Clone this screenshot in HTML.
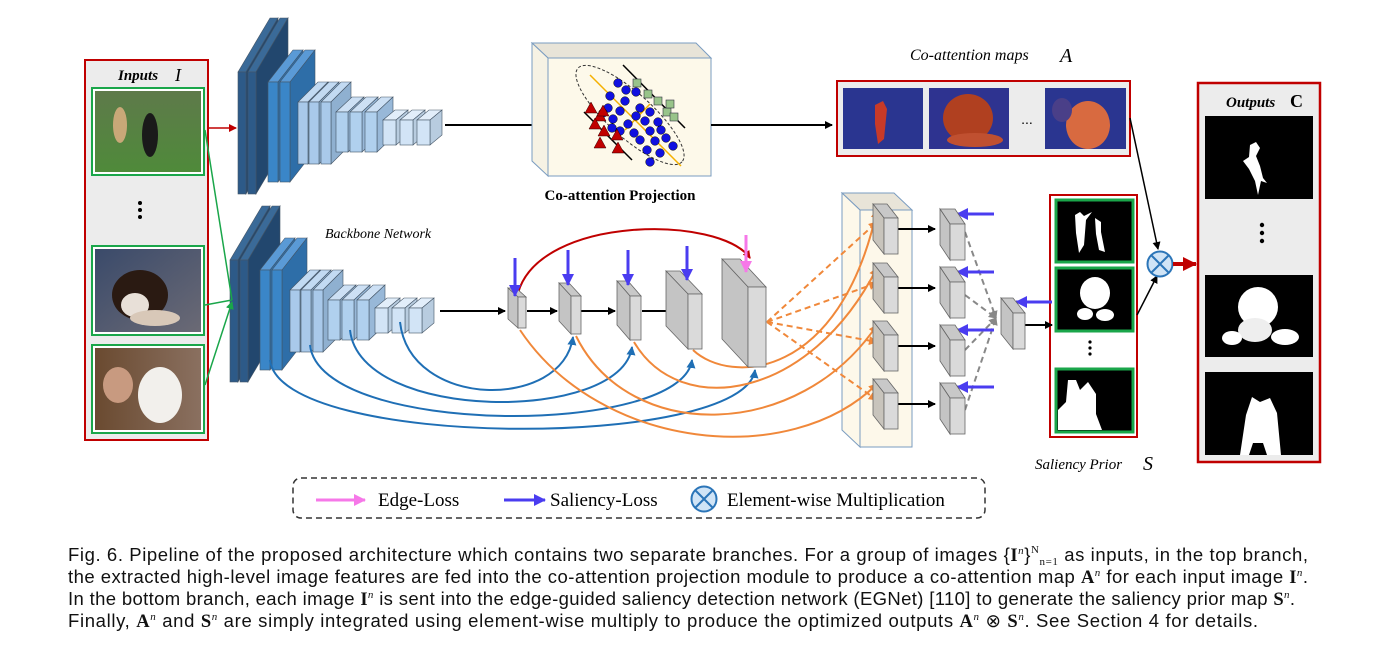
<!DOCTYPE html>
<html><head><meta charset="utf-8"><style>
html,body{margin:0;padding:0;background:#fff;}
svg{display:block}
.cap{font-family:"Liberation Sans",sans-serif;font-size:18.5px;fill:#111}
.ser{font-family:"Liberation Serif",serif}
</style></head><body>
<svg id="s" width="1375" height="651" viewBox="0 0 1375 651" xmlns="http://www.w3.org/2000/svg">
<defs>
<marker id="ak" markerWidth="8" markerHeight="8" refX="7" refY="4" orient="auto" markerUnits="userSpaceOnUse"><path d="M0,0 L8,4 L0,8 z" fill="#000"/></marker>
<marker id="ar" markerWidth="8" markerHeight="8" refX="7" refY="4" orient="auto" markerUnits="userSpaceOnUse"><path d="M0,0 L8,4 L0,8 z" fill="#c00000"/></marker>
<marker id="ab" markerWidth="9" markerHeight="9" refX="8" refY="4.5" orient="auto" markerUnits="userSpaceOnUse"><path d="M0,0 L9,4.5 L0,9 z" fill="#1f6fb5"/></marker>
<marker id="ao" markerWidth="9" markerHeight="9" refX="8" refY="4.5" orient="auto" markerUnits="userSpaceOnUse"><path d="M0,0 L9,4.5 L0,9 z" fill="#f0883a"/></marker>
<marker id="ag" markerWidth="8" markerHeight="8" refX="7" refY="4" orient="auto" markerUnits="userSpaceOnUse"><path d="M0,0 L8,4 L0,8 z" fill="#888"/></marker>
<marker id="agr" markerWidth="8" markerHeight="8" refX="7" refY="4" orient="auto" markerUnits="userSpaceOnUse"><path d="M0,0 L8,4 L0,8 z" fill="#1aa64a"/></marker>
<marker id="aB" markerWidth="12" markerHeight="12" refX="11" refY="6" orient="auto" markerUnits="userSpaceOnUse"><path d="M0,0 L12,6 L0,12 z" fill="#4a3cf0"/></marker>
<marker id="aP" markerWidth="12" markerHeight="12" refX="11" refY="6" orient="auto" markerUnits="userSpaceOnUse"><path d="M0,0 L12,6 L0,12 z" fill="#f678e8"/></marker>
<marker id="aR" markerWidth="14" markerHeight="14" refX="13" refY="7" orient="auto" markerUnits="userSpaceOnUse"><path d="M0,0 L14,7 L0,14 z" fill="#c00000"/></marker>
<linearGradient id="g1" x1="0" y1="0" x2="0" y2="1"><stop offset="0" stop-color="#5e7a4a"/><stop offset="1" stop-color="#4f8a3a"/></linearGradient>
<linearGradient id="g2" x1="0" y1="0" x2="1" y2="1"><stop offset="0" stop-color="#3a4a6a"/><stop offset="1" stop-color="#6b6a75"/></linearGradient>
<linearGradient id="g3" x1="0" y1="0" x2="1" y2="0"><stop offset="0" stop-color="#6a4a30"/><stop offset="1" stop-color="#8a7060"/></linearGradient>
</defs>

<rect x="85" y="60" width="123" height="380" fill="#ececec" stroke="#c00000" stroke-width="2"/>
<text x="118" y="80" class="ser" font-size="15" font-style="italic" font-weight="bold">Inputs</text>
<text x="175" y="81" class="ser" font-size="18" font-style="italic">I</text>
<rect x="92" y="88" width="112" height="87" fill="#fff" stroke="#1aa64a" stroke-width="2"/>
<rect x="95" y="91" width="106" height="81" fill="url(#g1)"/>
<ellipse cx="120" cy="125" rx="7" ry="18" fill="#c9a878"/><ellipse cx="150" cy="135" rx="8" ry="22" fill="#1a1a1a"/>
<circle cx="140" cy="203" r="2" fill="#000"/><circle cx="140" cy="210" r="2" fill="#000"/><circle cx="140" cy="217" r="2" fill="#000"/>
<rect x="92" y="246" width="112" height="89" fill="#fff" stroke="#1aa64a" stroke-width="2"/>
<rect x="95" y="249" width="106" height="83" fill="url(#g2)"/>
<ellipse cx="140" cy="295" rx="28" ry="25" fill="#2a1a12"/><ellipse cx="135" cy="305" rx="14" ry="12" fill="#e8e0d8"/><ellipse cx="155" cy="318" rx="25" ry="8" fill="#d8c8b8"/>
<rect x="92" y="345" width="112" height="88" fill="#fff" stroke="#1aa64a" stroke-width="2"/>
<rect x="95" y="348" width="106" height="82" fill="url(#g3)"/>
<ellipse cx="118" cy="385" rx="15" ry="18" fill="#c89a80"/><ellipse cx="160" cy="395" rx="22" ry="28" fill="#f2f0ec"/>

<g id="cnn"></g>
<line x1="208" y1="128" x2="236" y2="128" stroke="#c00000" stroke-width="1.5" marker-end="url(#ar)"/>
<path d="M205,130 L232,300 M205,305 L232,300 M205,385 L232,302" stroke="#1aa64a" stroke-width="1.5" fill="none" marker-end="url(#agr)"/>
<line x1="445" y1="125" x2="540" y2="125" stroke="#000" stroke-width="2" marker-end="url(#ak)"/>

<polygon points="532,43 696,43 711,58 548,58" fill="#e8e4d8" stroke="#7a9cc0"/>
<polygon points="532,43 548,58 548,176 532,161" fill="#f6f2e4" stroke="#7a9cc0"/>
<rect x="548" y="58" width="163" height="118" fill="#fdf9ea" stroke="#7a9cc0"/>
<ellipse cx="630" cy="115" rx="70" ry="22" transform="rotate(42 630 115)" fill="none" stroke="#333" stroke-dasharray="3,2"/>
<line x1="590" y1="75" x2="681" y2="166" stroke="#f5b000" stroke-width="1.5"/>
<line x1="625" y1="130" x2="650" y2="104" stroke="#f5b000" stroke-width="1.5"/>
<line x1="623" y1="65" x2="685" y2="128" stroke="#000" stroke-width="1.5"/>
<line x1="584" y1="112" x2="632" y2="160" stroke="#000" stroke-width="1.5"/>
<g id="pts"></g>
<text x="620" y="200" text-anchor="middle" class="ser" font-size="15" font-weight="bold">Co-attention Projection</text>
<line x1="711" y1="125" x2="832" y2="125" stroke="#000" stroke-width="2" marker-end="url(#ak)"/>

<text x="910" y="60" class="ser" font-size="16" font-style="italic">Co-attention maps</text>
<text x="1060" y="62" class="ser" font-size="20" font-style="italic">A</text>
<rect x="837" y="81" width="293" height="75" fill="#ececec" stroke="#c00000" stroke-width="2"/>
<rect x="843" y="88" width="80" height="61" fill="#2a3590"/><path d="M875,105 l8,-4 4,8 -3,30 -6,5 -3,-20z" fill="#c83a28"/>
<rect x="929" y="88" width="80" height="61" fill="#2e3390"/><ellipse cx="968" cy="118" rx="25" ry="24" fill="#b04020"/><ellipse cx="975" cy="140" rx="28" ry="7" fill="#c05030"/>
<text x="1027" y="124" font-size="14" font-family="Liberation Sans" text-anchor="middle">...</text>
<rect x="1045" y="88" width="81" height="61" fill="#2a3590"/><ellipse cx="1088" cy="125" rx="22" ry="24" fill="#d86a40"/><ellipse cx="1062" cy="110" rx="10" ry="12" fill="#4a3f88"/>
<line x1="1130" y1="118" x2="1158" y2="249" stroke="#000" stroke-width="1.5" marker-end="url(#ak)"/>

<rect x="1198" y="83" width="122" height="379" fill="#ececec" stroke="#c00000" stroke-width="2.5"/>
<text x="1226" y="107" class="ser" font-size="15" font-style="italic" font-weight="bold">Outputs</text>
<text x="1290" y="107" class="ser" font-size="18" font-weight="bold">C</text>
<rect x="1205" y="116" width="108" height="83" fill="#000"/><path d="M1250,145 l6,-3 4,6 -4,8 4,10 3,12 4,5 -6,-2 -3,14 -3,-14 -6,-12 -6,-8 6,-4z" fill="#fff"/>
<circle cx="1262" cy="225" r="2.2" fill="#000"/><circle cx="1262" cy="233" r="2.2" fill="#000"/><circle cx="1262" cy="241" r="2.2" fill="#000"/>
<rect x="1205" y="275" width="108" height="82" fill="#000"/><ellipse cx="1258" cy="307" rx="20" ry="20" fill="#fff"/><ellipse cx="1255" cy="330" rx="17" ry="12" fill="#eee"/><ellipse cx="1285" cy="337" rx="14" ry="8" fill="#fff"/><ellipse cx="1232" cy="338" rx="10" ry="7" fill="#fff"/>
<rect x="1205" y="372" width="108" height="83" fill="#000"/><path d="M1240,455 l6,-40 6,-18 8,5 10,-4 7,15 4,42 -14,0 -4,-12 -10,0 -4,12z" fill="#fff"/>

<rect x="1050" y="195" width="87" height="242" fill="#fff" stroke="#c00000" stroke-width="2"/>
<rect x="1056" y="200" width="77" height="62" fill="#000" stroke="#1aa64a" stroke-width="3"/>
<path d="M1075,215 l5,-3 4,4 8,-4 -6,8 -2,25 -5,8 -3,-20z M1095,218 l6,4 0,10 4,20 -6,-2 -3,-16z" fill="#fff"/>
<rect x="1056" y="268" width="77" height="63" fill="#000" stroke="#1aa64a" stroke-width="3"/>
<ellipse cx="1095" cy="293" rx="15" ry="16" fill="#fff"/><ellipse cx="1085" cy="314" rx="8" ry="6" fill="#fff"/><ellipse cx="1105" cy="315" rx="9" ry="6" fill="#fff"/>
<circle cx="1090" cy="342" r="1.6"/><circle cx="1090" cy="348" r="1.6"/><circle cx="1090" cy="354" r="1.6"/>
<rect x="1056" y="369" width="77" height="63" fill="#000" stroke="#1aa64a" stroke-width="3"/>
<path d="M1058,430 l0,-20 8,-8 2,-22 8,0 4,10 8,-8 8,12 0,20 6,16z" fill="#fff"/>
<text x="1035" y="469" class="ser" font-size="15" font-style="italic">Saliency Prior</text>
<text x="1143" y="470" class="ser" font-size="20" font-style="italic">S</text>
<line x1="1137" y1="315" x2="1157" y2="276" stroke="#000" stroke-width="1.5" marker-end="url(#ak)"/>
<circle cx="1160" cy="264" r="12.5" fill="#d0e4f6" stroke="#2b75b8" stroke-width="2"/>
<path d="M1151,255 L1169,273 M1169,255 L1151,273" stroke="#2b75b8" stroke-width="2"/>
<line x1="1173" y1="264" x2="1196" y2="264" stroke="#c00000" stroke-width="4" marker-end="url(#aR)"/>

<text x="325" y="238" class="ser" font-size="14" font-style="italic">Backbone Network</text>

<polygon points="842,193 894,193 912,210 860,210" fill="#e8e4d8" stroke="#7a9cc0"/>
<polygon points="842,193 860,210 860,447 842,430" fill="#fdf8ea" stroke="#7a9cc0"/>
<rect x="860" y="210" width="52" height="237" fill="#fdf8ea" stroke="#7a9cc0"/>

<g id="curves"></g>
<g id="blocks"></g>

<rect x="293" y="478" width="692" height="40" rx="8" fill="none" stroke="#333" stroke-width="1.5" stroke-dasharray="6,4"/>
<line x1="316" y1="500" x2="365" y2="500" stroke="#f678e8" stroke-width="3" marker-end="url(#aP)"/>
<text x="378" y="506" class="ser" font-size="19">Edge-Loss</text>
<line x1="504" y1="500" x2="545" y2="500" stroke="#4a3cf0" stroke-width="3" marker-end="url(#aB)"/>
<text x="550" y="506" class="ser" font-size="19">Saliency-Loss</text>
<circle cx="704" cy="499" r="12.5" fill="#d0e4f6" stroke="#2b75b8" stroke-width="2"/>
<path d="M695,490 L713,508 M713,490 L695,508" stroke="#2b75b8" stroke-width="2"/>
<text x="727" y="506" class="ser" font-size="19">Element-wise Multiplication</text>

<text x="68" y="561" class="cap" textLength="1240" lengthAdjust="spacing">Fig. 6. Pipeline of the proposed architecture which contains two separate branches. For a group of images {<tspan class="ser" font-weight="bold">I</tspan><tspan class="ser" font-style="italic" font-size="11" dy="-7">n</tspan><tspan dy="7">}</tspan><tspan class="ser" font-size="11" dy="-8">N</tspan><tspan class="ser" font-size="11" dy="12">n=1</tspan><tspan dy="-4"> as inputs, in the top branch,</tspan></text>
<text x="68" y="583" class="cap" textLength="1240" lengthAdjust="spacing">the extracted high-level image features are fed into the co-attention projection module to produce a co-attention map <tspan class="ser" font-weight="bold">A</tspan><tspan class="ser" font-style="italic" font-size="11" dy="-7">n</tspan><tspan dy="7"> for each input image </tspan><tspan class="ser" font-weight="bold">I</tspan><tspan class="ser" font-style="italic" font-size="11" dy="-7">n</tspan><tspan dy="7">.</tspan></text>
<text x="68" y="605" class="cap" textLength="1227" lengthAdjust="spacing">In the bottom branch, each image <tspan class="ser" font-weight="bold">I</tspan><tspan class="ser" font-style="italic" font-size="11" dy="-7">n</tspan><tspan dy="7"> is sent into the edge-guided saliency detection network (EGNet) [110] to generate the saliency prior map </tspan><tspan class="ser" font-weight="bold">S</tspan><tspan class="ser" font-style="italic" font-size="11" dy="-7">n</tspan><tspan dy="7">.</tspan></text>
<text x="68" y="627" class="cap" textLength="1190" lengthAdjust="spacing">Finally, <tspan class="ser" font-weight="bold">A</tspan><tspan class="ser" font-style="italic" font-size="11" dy="-7">n</tspan><tspan dy="7"> and </tspan><tspan class="ser" font-weight="bold">S</tspan><tspan class="ser" font-style="italic" font-size="11" dy="-7">n</tspan><tspan dy="7"> are simply integrated using element-wise multiply to produce the optimized outputs </tspan><tspan class="ser" font-weight="bold">A</tspan><tspan class="ser" font-style="italic" font-size="11" dy="-7">n</tspan><tspan dy="7"> ⊗ </tspan><tspan class="ser" font-weight="bold">S</tspan><tspan class="ser" font-style="italic" font-size="11" dy="-7">n</tspan><tspan dy="7">. See Section 4 for details.</tspan></text>
</svg>
<script>
var NS="http://www.w3.org/2000/svg";
function el(p,t,a){var e=document.createElementNS(NS,t);for(var k in a)e.setAttribute(k,a[k]);document.getElementById(p).appendChild(e);return e;}
function slab(g,x,y,w,h,dx,dy,cf,cs,ct){
 el(g,'polygon',{points:[x,y,x+dx,y-dy,x+w+dx,y-dy,x+w,y].join(','),fill:ct,stroke:'#456',"stroke-width":0.6});
 el(g,'polygon',{points:[x+w,y,x+w+dx,y-dy,x+w+dx,y+h-dy,x+w,y+h].join(','),fill:cs,stroke:'#456',"stroke-width":0.6});
 el(g,'rect',{x:x,y:y,width:w,height:h,fill:cf,stroke:'#456',"stroke-width":0.6});
}
function cnn(ox,oy){
 var L=[[[238,248],8,72,122,32,54,'#2d5a88','#22476e','#3a6a98'],
 [[268,280],10,82,100,25,32,'#3a86c8','#2e6ea8','#5a9ad6'],
 [[298,309,321],10,102,62,20,20,'#a9c9ea','#8fb0d0','#c2daf2'],
 [[336,350,365],12,112,40,16,15,'#b0d0ee','#98b8d8','#cde0f4'],
 [[383,400,417],13,120,25,12,10,'#d2e4f6','#b8ccdf','#e2eefa']];
 L.forEach(function(l){l[0].forEach(function(x){slab('cnn',x+ox,l[2]+oy,l[1],l[3],l[4],l[5],l[6],l[7],l[8]);});});
}
cnn(0,0);cnn(-8,188);
function gb(fx,fy,w,h,dx,dy,cf){
 el('blocks','polygon',{points:[fx,fy,fx-dx,fy-dy,fx-dx+w,fy-dy,fx+w,fy].join(','),fill:'#c8c8c8',stroke:'#666',"stroke-width":0.8});
 el('blocks','polygon',{points:[fx,fy,fx-dx,fy-dy,fx-dx,fy-dy+h,fx,fy+h].join(','),fill:cf||'#c4c4c4',stroke:'#666',"stroke-width":0.8});
 el('blocks','rect',{x:fx,y:fy,width:w,height:h,fill:'#dadada',stroke:'#666',"stroke-width":0.8});
}
function ln(g,d,c,w,m,da){var a={d:d,stroke:c,"stroke-width":w,fill:'none'};if(m)a['marker-end']='url(#'+m+')';if(da)a['stroke-dasharray']=da;return el(g,'path',a);}
ln('curves','M440,311 L505,311','#000',2,'ak');
ln('curves','M527,311 L557,311','#000',2,'ak');
ln('curves','M580,311 L615,311','#000',2,'ak');
ln('curves','M642,311 L673,311','#000',2,'ak');
var B=[[400,322,573,337,405],[350,330,632,347,418],[310,345,692,360,432],[270,360,755,370,445]];
B.forEach(function(b){ln('curves','M'+b[0]+','+b[1]+' C'+(b[0]+10)+','+(b[4]+5)+' '+(b[2]-10)+','+(b[4]+5)+' '+b[2]+','+b[3],'#1f6fb5',2,'ab');});
ln('curves','M518,293 C540,215 720,215 750,258','#c00000',2,'ar');
ln('curves','M520,330 C600,450 790,470 877,384','#f0883a',2,'ao');
ln('curves','M576,336 C630,445 800,440 877,325','#f0883a',2,'ao');
ln('curves','M634,342 C680,420 810,400 877,268','#f0883a',2,'ao');
ln('curves','M693,350 C730,385 840,380 877,210','#f0883a',2,'ao');
[[877,222],[877,283],[877,342],[877,400]].forEach(function(p){ln('curves','M767,322 L'+p[0]+','+p[1],'#f0883a',2,'ao','6,4');});
[229,288,346,404].forEach(function(y){ln('curves','M898,'+y+' L935,'+y,'#000',2,'ak');});
[[965,232],[965,295],[965,350],[965,410]].forEach(function(p){ln('curves','M'+p[0]+','+p[1]+' L996,318','#888',2,'ag','6,4');});
ln('curves','M1025,325 L1052,325','#000',2,'ak');
[[994,214,957],[994,272,957],[994,330,957],[994,387,957],[1052,302,1016]].forEach(function(a){ln('curves','M'+a[0]+','+a[1]+' L'+a[2]+','+a[1],'#4a3cf0',3,'aB');});
gb(518,297,8,31,10,9);gb(571,296,10,38,12,13);gb(630,296,11,44,13,15);gb(688,294,14,55,22,23);gb(748,287,18,80,26,28);
[204,263,321,379].forEach(function(y){gb(884,y+14,14,36,11,14,'#c8c4bc');});
[209,267,325,383].forEach(function(y){gb(950,y+15,15,36,10,15);});
gb(1013,313,12,36,12,15);
[[515,258,296],[568,250,285],[628,250,285],[687,246,280]].forEach(function(a){ln('blocks','M'+a[0]+','+a[1]+' L'+a[0]+','+a[2],'#4a3cf0',3,'aB');});
ln('blocks','M746,235 L746,272','#f678e8',3,'aP');
var blue=[[618,83],[626,90],[636,92],[610,96],[625,101],[640,108],[608,108],[620,111],[636,116],[650,112],[613,119],[628,124],[645,121],[620,131],[634,133],[650,131],[661,130],[640,140],[655,141],[666,138],[647,150],[660,153],[673,146],[650,162],[658,122],[612,128],[603,113]];
blue.forEach(function(p){el('pts','circle',{cx:p[0],cy:p[1],r:4.3,fill:'#1010e0',stroke:'#000',"stroke-width":0.5});});
[[637,83],[648,94],[658,101],[667,112],[674,117],[670,104]].forEach(function(p){el('pts','rect',{x:p[0]-4,y:p[1]-4,width:8,height:8,fill:'#98c48a',stroke:'#334',"stroke-width":0.6});});
[[591,108],[600,116],[595,124],[604,131],[600,143],[617,135],[618,148],[603,111]].forEach(function(p){el('pts','polygon',{points:[p[0],p[1]-6,p[0]+6,p[1]+5,p[0]-6,p[1]+5].join(','),fill:'#c00000',stroke:'#300',"stroke-width":0.5});});
</script>
</body></html>
